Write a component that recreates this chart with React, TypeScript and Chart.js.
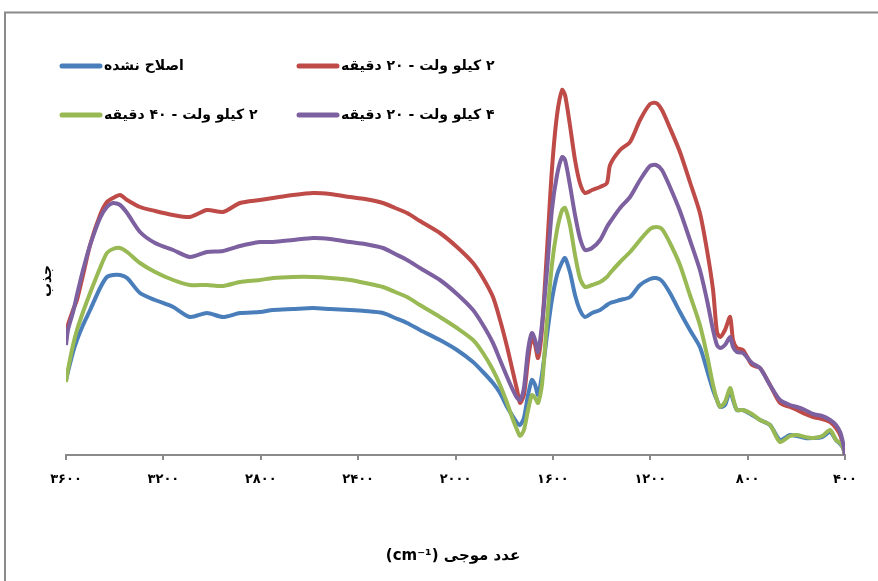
import { useEffect, useRef } from "react";
import { Chart, registerables } from "chart.js";

Chart.register(...registerables);

// Wavenumber (cm-1) sampling positions
const wavenumbers = [
  3600, 3592, 3571, 3555, 3530, 3501, 3460, 3432, 3407, 3378,
  3349, 3296, 3234, 3160, 3091, 3021, 2955, 2885, 2803, 2750,
  2667, 2585, 2515, 2433, 2372, 2298, 2248, 2199, 2146, 2064,
  1994, 1928, 1887, 1846, 1817, 1788, 1768, 1747, 1735, 1719,
  1702, 1686, 1673, 1661, 1645, 1624, 1604, 1583, 1562, 1550,
  1530, 1509, 1489, 1468, 1439, 1406, 1378, 1365, 1324, 1283,
  1242, 1201, 1176, 1152, 1119, 1078, 1037, 996, 967, 942,
  926, 913, 893, 872, 860, 844, 819, 782, 749, 708,
  667, 626, 597, 564, 531, 494, 461, 437, 420, 408,
  400,
];

// Absorbance (arbitrary units)
const unmodified = [
  75, 83, 103, 115, 130, 145, 167, 178, 180, 180,
  177, 162, 155, 148, 138, 142, 138, 142, 143, 145,
  146, 147, 146, 145, 144, 142, 137, 132, 125, 115,
  105, 93, 83, 72, 62, 48, 40, 32, 30, 37,
  60, 75, 70, 60, 80, 120, 155, 180, 193, 197,
  183, 160, 145, 138, 142, 145, 150, 152, 155, 158,
  170, 176, 177, 174, 162, 143, 125, 108, 85, 65,
  55, 48, 50, 65, 55, 45, 45, 40, 35, 30,
  15, 20, 19, 17, 17, 18, 23, 15, 11, 7,
  0,
];

const kv2min20 = [
  115, 130, 145, 155, 180, 210, 240, 253, 257, 260,
  255, 248, 244, 240, 238, 245, 243, 252, 255, 257,
  260, 262, 261, 258, 256, 252, 247, 242, 234, 222,
  208, 192, 177, 158, 135, 108, 87, 65, 52, 60,
  95, 118, 110, 97, 125, 205, 285, 340, 365, 360,
  330, 295, 272, 262, 265, 268, 272, 290, 305, 313,
  335, 351, 352, 345, 327, 303, 273, 242, 205, 165,
  123, 118, 125, 138, 115, 107, 105, 90, 87, 70,
  52, 48, 45, 41, 38, 36, 33, 27, 20, 10,
  0,
];

const kv2min40 = [
  73, 85, 110, 125, 143, 162, 187, 202, 206, 207,
  203, 192, 183, 175, 170, 170, 169, 173, 175, 177,
  178, 178, 177, 175, 172, 168, 163, 158, 150, 138,
  127, 115, 102, 85, 70, 52, 38, 25, 19, 25,
  45, 60, 57, 52, 70, 135, 190, 225, 245, 247,
  230, 200, 177, 168, 170, 173, 178, 182, 193, 203,
  215, 226, 228, 226, 212, 190, 160, 130, 100, 70,
  55, 48, 53, 67, 57, 45, 45, 41, 35, 30,
  13, 19, 20, 18, 17, 19, 25, 15, 12, 7,
  0,
];

const kv4min20 = [
  110, 125, 143, 160, 185, 210, 237, 248, 252, 250,
  242, 223, 212, 205, 198, 203, 204, 209, 213, 213,
  215, 217, 216, 213, 211, 207, 201, 195, 187, 175,
  161, 145, 130, 112, 95, 78, 67, 57, 55, 67,
  105, 122, 115, 103, 130, 185, 245, 280, 298, 295,
  270, 240, 217, 205, 207, 215, 228, 233, 247, 258,
  275, 289, 290, 285, 268, 244, 215, 185, 155, 125,
  110, 107, 110, 118, 108, 103, 102, 92, 87, 70,
  55, 50, 48, 45, 41, 39, 35, 30, 23, 12,
  0,
];

const seriesLabels = [
  "اصلاح نشده",
  "۲ کیلو ولت - ۲۰ دقیقه",
  "۲ کیلو ولت - ۴۰ دقیقه",
  "۴ کیلو ولت - ۲۰ دقیقه",
];
const seriesColors = ["#4A7EBB", "#BE4B48", "#98B954", "#7D60A0"];
const seriesOrder = [4, 3, 2, 1];

const xTicks = [3600, 3200, 2800, 2400, 2000, 1600, 1200, 800, 400];
const xTitle = "عدد موجی (cm⁻¹)";
const yTitle = "جذب";

const FONT = "'DejaVu Sans', 'Noto Sans', sans-serif";

const toPersian = (n: number) =>
  String(n).replace(/\d/g, (d) => "۰۱۲۳۴۵۶۷۸۹"[+d]);

const decorPlugin = {
  id: "decor",
  beforeDraw(chart: any) {
    const ctx = chart.ctx;
    ctx.save();
    ctx.fillStyle = "#ffffff";
    ctx.fillRect(0, 0, chart.width, chart.height);
    ctx.strokeStyle = "#8a8a8a";
    ctx.lineWidth = 2;
    ctx.strokeRect(5, 12.5, chart.width + 20, chart.height + 20);
    ctx.restore();
  },
  afterDraw(chart: any) {
    const ctx = chart.ctx;
    ctx.save();
    // legend
    const colX = [60, 297];
    const rowY = [66, 115];
    seriesLabels.forEach((label, i) => {
      const x = colX[i % 2];
      const y = rowY[Math.floor(i / 2)];
      ctx.strokeStyle = seriesColors[i];
      ctx.lineWidth = 5;
      ctx.lineCap = "round";
      ctx.beginPath();
      ctx.moveTo(x + 2, y);
      ctx.lineTo(x + 40, y);
      ctx.stroke();
      ctx.fillStyle = "#000";
      ctx.font = `bold 14px ${FONT}`;
      ctx.textBaseline = "middle";
      ctx.textAlign = "left";
      (ctx as any).direction = "rtl";
      ctx.fillText(label, x + 44, y);
    });
    // x title
    ctx.font = `bold 15px ${FONT}`;
    ctx.textAlign = "center";
    ctx.textBaseline = "middle";
    (ctx as any).direction = "rtl";
    ctx.fillText(xTitle, 453, 556);
    // y title
    ctx.translate(47, 281);
    ctx.rotate(-Math.PI / 2);
    ctx.font = `bold 14px ${FONT}`;
    ctx.fillText(yTitle, 0, 0);
    ctx.restore();
  },
};

export default function App() {
  const ref = useRef<HTMLCanvasElement>(null);

  useEffect(() => {
    if (!ref.current) return;
    const series = [unmodified, kv2min20, kv2min40, kv4min20];
    const chart = new Chart(ref.current, {
      type: "line",
      data: {
        datasets: series.map((arr, i) => ({
          label: seriesLabels[i],
          data: wavenumbers.map((w, j) => ({ x: w, y: arr[j] })),
          borderColor: seriesColors[i],
          backgroundColor: seriesColors[i],
          borderWidth: 4,
          pointRadius: 0,
          tension: 0.25,
          order: seriesOrder[i],
        })),
      },
      options: {
        responsive: false,
        animation: false,
        layout: { padding: { left: 66, right: 33, top: 55, bottom: 0 } },
        plugins: {
          legend: { display: false },
          tooltip: { enabled: false },
        },
        scales: {
          x: {
            type: "linear",
            min: 400,
            max: 3600,
            reverse: true,
            afterBuildTicks: (s: any) => {
              s.ticks = xTicks.map((v) => ({ value: v }));
            },
            afterFit: (s: any) => {
              s.height = 126;
            },
            ticks: {
              autoSkip: false,
              maxRotation: 0,
              padding: 12,
              color: "#000",
              font: { family: FONT, size: 13, weight: "bold" },
              callback: (v: any) => toPersian(Number(v)),
            },
            grid: {
              display: true,
              drawOnChartArea: false,
              drawTicks: true,
              tickLength: 5,
              color: "#8a8a8a",
              lineWidth: 2,
            },
            border: { display: true, color: "#8a8a8a", width: 2 },
          },
          y: {
            type: "linear",
            min: 0,
            max: 400,
            display: false,
          },
        },
      },
      plugins: [decorPlugin],
    } as any);
    return () => chart.destroy();
  }, []);

  return (
    <div style={{ position: "fixed", left: 0, top: 0, width: 878, height: 581 }}>
      <canvas ref={ref} width={878} height={581} style={{ width: 878, height: 581, display: "block" }} />
    </div>
  );
}
